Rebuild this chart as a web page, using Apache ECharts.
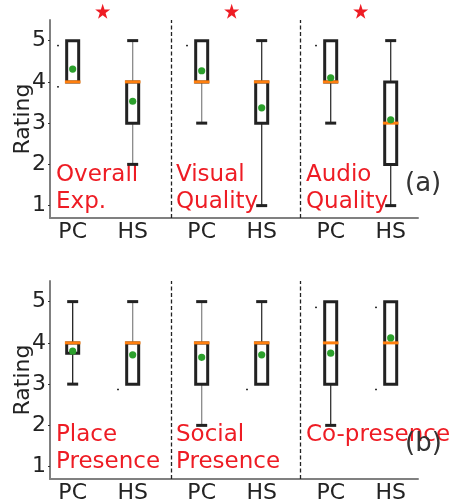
<!DOCTYPE html>
<html><head><meta charset="utf-8">
<script src="https://cdn.jsdelivr.net/npm/echarts@6/dist/echarts.min.js"></script>
<style>html,body{margin:0;padding:0;background:#fff}#c{width:452px;height:502px}</style>
</head><body><div id="c"></div>
<script>
// ---- data ----
const conditions = ['PC', 'HS'];
const yTicks = [1, 2, 3, 4, 5];
const groupsTop = ['Overall\nExp.', 'Visual\nQuality', 'Audio\nQuality'];
const groupsBottom = ['Place\nPresence', 'Social\nPresence', 'Co-presence'];
// five-number summaries [low whisker, Q1, median, Q3, high whisker] per box (PC, HS, PC, HS, PC, HS)
const statsTop = [
  [4, 4, 4, 5, 5], [2, 3, 4, 4, 5],
  [3, 4, 4, 5, 5], [1, 3, 4, 4, 5],
  [3, 4, 4, 5, 5], [1, 2, 3, 4, 5]
];
const meansTop = [4.31, 3.53, 4.27, 3.37, 4.10, 3.08];
const statsBottom = [
  [3, 3.75, 4, 4, 5], [3, 3, 4, 4, 5],
  [2, 3, 4, 4, 5], [3, 3, 4, 4, 5],
  [2, 3, 4, 5, 5], [3, 3, 4, 5, 5]
];
const meansBottom = [3.80, 3.71, 3.65, 3.71, 3.75, 4.12];
// small flier dots: [box index, value]
const fliersTop = [[0, 4.88], [0, 3.88], [2, 4.88], [4, 4.88]];
const fliersBottom = [[1, 2.87], [3, 2.87], [4, 4.86], [5, 4.86], [5, 2.87]];
const significantTop = [0, 1, 2]; // groups marked with a star

// ---- layout / style ----
const pos = [0, 1, 2.15, 3.15, 4.3, 5.3];
const groupMid = [0.5, 2.65, 4.8];
const separators = [1.65, 3.8];
const whiskerColTop = ['#888', '#8a8a8a', '#8a8a8a', '#333', '#333', '#333'];
const whiskerColBottom = ['#222', '#8a8a8a', '#8a8a8a', '#333', '#333', '#333'];
const FONT = 'DejaVu Sans';
const RED = '#ee1c24';
const STAR = 'path://M50,0 L61.8,35.1 L98.9,35.1 L68.9,56.8 L80.3,91.9 L50,70.2 L19.7,91.9 L31.1,56.8 L1.1,35.1 L38.2,35.1 Z';

function boxData(stats, means) {
  return stats.map((s, i) => [pos[i], s[0], s[1], s[2], s[3], s[4], means[i], i]);
}
function makeRender(wcols) {
  return function (params, api) {
    const x = api.value(0);
    const lo = api.value(1), q1 = api.value(2), med = api.value(3), q3 = api.value(4), hi = api.value(5), mean = api.value(6);
    const wc = wcols[api.value(7)];
    const cx = api.coord([x, med])[0];
    const Y = v => api.coord([x, v])[1];
    const ch = [];
    const hw = 6, cap = 5.5, mw = 7.8;
    if (hi > q3) {
      ch.push({type: 'line', shape: {x1: cx, y1: Y(q3), x2: cx, y2: Y(hi)}, style: {stroke: wc, lineWidth: 1.3}});
      ch.push({type: 'line', shape: {x1: cx - cap, y1: Y(hi), x2: cx + cap, y2: Y(hi)}, style: {stroke: '#222', lineWidth: 3}});
    }
    if (lo < q1) {
      ch.push({type: 'line', shape: {x1: cx, y1: Y(q1), x2: cx, y2: Y(lo)}, style: {stroke: wc, lineWidth: 1.3}});
      ch.push({type: 'line', shape: {x1: cx - cap, y1: Y(lo), x2: cx + cap, y2: Y(lo)}, style: {stroke: '#222', lineWidth: 3}});
    }
    ch.push({type: 'rect', shape: {x: cx - hw, y: Y(q3), width: 2 * hw, height: Y(q1) - Y(q3)}, style: {fill: null, stroke: '#222', lineWidth: 3}});
    ch.push({type: 'line', shape: {x1: cx - mw, y1: Y(med), x2: cx + mw, y2: Y(med)}, style: {stroke: '#ff7f0e', lineWidth: 3}});
    ch.push({type: 'circle', shape: {cx: cx, cy: Y(mean), r: 3.6}, style: {fill: '#2ca02c'}});
    return {type: 'group', children: ch};
  };
}
function flierData(f) { return f.map(d => [pos[d[0]] - 0.245, d[1]]); }

function yAxisCfg(gi) {
  return {
    gridIndex: gi, type: 'value', min: 0.7, max: 5.5,
    name: 'Rating', nameLocation: 'middle', nameGap: 16, nameMoveOverlap: false,
    nameTextStyle: {fontSize: 22, color: '#222', fontFamily: FONT},
    axisLine: {show: true, onZero: false, lineStyle: {color: '#808080', width: 2}},
    axisTick: {show: true, length: 2, customValues: yTicks, lineStyle: {color: '#333'}},
    axisLabel: {customValues: yTicks, fontSize: 22, color: '#222', fontFamily: FONT, margin: 4},
    splitLine: {show: false}
  };
}
function xAxisCfg(gi) {
  return {
    gridIndex: gi, type: 'value', min: -0.378, max: 5.755,
    axisLine: {show: true, onZero: false, lineStyle: {color: '#808080', width: 2}},
    axisTick: {show: false},
    axisLabel: {customValues: pos, fontSize: 22, color: '#222', fontFamily: FONT, margin: 3,
      formatter: v => { const i = pos.findIndex(p => Math.abs(p - v) < 1e-6); return i >= 0 ? conditions[i % 2] : ''; }},
    splitLine: {show: false}
  };
}
function sepLine() {
  return {silent: true, symbol: ['none', 'none'], label: {show: false},
    lineStyle: {type: [4, 2.5], color: '#222', width: 1.3},
    data: separators.map(s => ({xAxis: s}))};
}
function groupText(names, lefts, top, lh) {
  return names.map((n, i) => ({type: 'text', left: lefts[i], top: top,
    style: {text: n, font: '23px "' + FONT + '"', fill: RED, lineHeight: lh}}));
}

const chart = echarts.init(document.getElementById('c'), null, {renderer: 'canvas'});
chart.setOption({
  animation: false,
  grid: [
    {left: 50, top: 20, width: 368, height: 198, outerBoundsMode: 'none', containLabel: false},
    {left: 50, top: 281, width: 368, height: 198, outerBoundsMode: 'none', containLabel: false}
  ],
  xAxis: [xAxisCfg(0), xAxisCfg(1)],
  yAxis: [yAxisCfg(0), yAxisCfg(1)],
  graphic: [
    ...groupText(groupsTop, [56, 176, 306], 162, 26.5),
    ...groupText(groupsBottom, [56, 176, 306], 422, 26.5),
    {type: 'text', left: 405, top: 171, style: {text: '(a)', font: '26px "' + FONT + '"', fill: '#333'}},
    {type: 'text', left: 405, top: 431, style: {text: '(b)', font: '26px "' + FONT + '"', fill: '#333'}}
  ],
  series: [
    {type: 'scatter', xAxisIndex: 0, yAxisIndex: 0, data: flierData(fliersTop), symbol: 'rect', symbolSize: [2, 1.5],
      itemStyle: {color: '#333', opacity: 1}, silent: true, markLine: sepLine()},
    {type: 'scatter', xAxisIndex: 1, yAxisIndex: 1, data: flierData(fliersBottom), symbol: 'rect', symbolSize: [2, 1.5],
      itemStyle: {color: '#333', opacity: 1}, silent: true, markLine: sepLine()},
    {type: 'custom', xAxisIndex: 0, yAxisIndex: 0, data: boxData(statsTop, meansTop), renderItem: makeRender(whiskerColTop), clip: false},
    {type: 'custom', xAxisIndex: 1, yAxisIndex: 1, data: boxData(statsBottom, meansBottom), renderItem: makeRender(whiskerColBottom), clip: false},
    {type: 'scatter', xAxisIndex: 0, yAxisIndex: 0, clip: false, symbol: STAR, symbolSize: 15,
      itemStyle: {color: RED, opacity: 1}, data: significantTop.map(g => [groupMid[g], 5.71])}
  ]
});
</script></body></html>
